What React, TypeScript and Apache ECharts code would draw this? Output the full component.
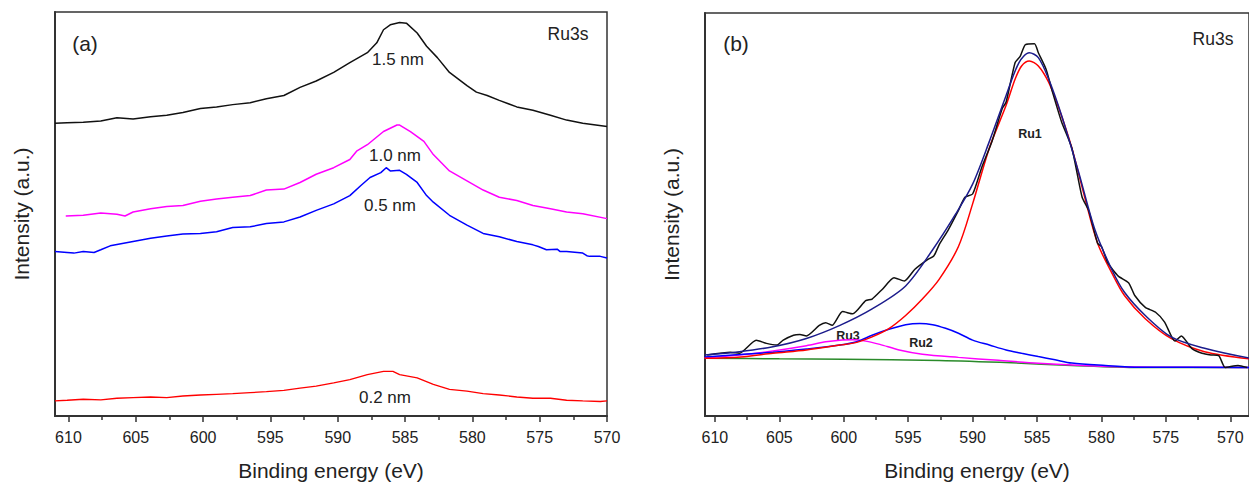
import React, { useEffect, useRef } from "react";
import * as echarts from "echarts";

// ---------- data: [binding energy (eV), intensity (a.u.)] ----------
const nm15: number[][] = [
  [611.0, 297], [610.1, 297.7], [608.9, 298], [607.6, 299.3], [606.4, 302.7], [605.2, 301.3], [603.9, 303.7],
  [602.7, 305.3], [601.5, 308], [600.2, 312], [599.0, 313.7], [597.8, 316], [596.5, 318], [595.3, 322],
  [594.0, 325.3], [592.8, 333.5], [591.6, 340], [590.3, 348.7], [589.1, 358.7], [587.8, 368.7], [587.1, 378.7],
  [586.6, 392], [586.1, 397], [585.4, 399.3], [584.9, 398.7], [584.1, 388.7], [583.4, 375.3], [582.6, 363.7],
  [581.7, 348.7], [580.4, 335.3], [579.7, 328.7], [578.9, 325.3], [578.0, 320.3], [576.7, 313.7], [575.5, 310.3],
  [574.2, 305.3], [573.0, 300.3], [571.8, 297], [570.0, 293.7],
];
const nm10: number[][] = [
  [610.2, 203], [608.9, 203.7], [607.6, 206], [606.4, 204.7], [605.8, 203], [605.2, 207], [603.9, 210.3],
  [602.7, 212.7], [601.5, 213.7], [600.2, 218], [599.0, 220.3], [597.8, 222], [596.5, 223.7], [595.3, 229.3],
  [594.0, 230.3], [592.8, 237], [591.6, 245.3], [590.3, 252], [589.1, 260.3], [588.6, 268.7], [587.8, 275.3],
  [586.6, 288.7], [585.6, 295.3], [585.4, 295.3], [584.6, 288.7], [583.6, 278.7], [582.9, 265.3], [581.7, 248.7],
  [580.4, 238.7], [579.2, 229.3], [578.0, 222], [576.7, 218.7], [575.5, 213.7], [574.2, 210.3], [573.0, 207],
  [571.8, 205.3], [570.0, 200.3],
];
const nm05: number[][] = [
  [611.0, 167], [610.1, 166], [609.6, 165.3], [608.9, 167], [608.1, 166], [607.6, 168.7], [606.9, 172.7],
  [605.2, 177], [603.9, 180.3], [602.7, 182.7], [601.5, 184.7], [600.2, 185.3], [599.0, 187], [597.8, 191.3],
  [596.5, 192], [595.3, 195.3], [594.0, 197], [592.8, 202], [591.6, 208.7], [590.3, 215.3], [589.1, 223.7],
  [588.3, 233.7], [587.6, 242], [586.8, 247], [586.4, 252], [586.1, 248.7], [585.4, 249.3], [584.9, 245.3],
  [584.1, 237], [583.4, 223.7], [582.9, 217], [581.7, 203.7], [580.4, 193.7], [579.2, 185.3], [578.0, 182],
  [576.7, 177], [575.5, 173.7], [575.1, 172], [574.5, 168.7], [573.7, 169.3], [573.5, 167], [573.0, 167],
  [571.8, 165.3], [571.5, 162.7], [571.3, 162], [570.5, 162], [570.0, 160.3],
];
const nm02: number[][] = [
  [611.0, 15.3], [610.1, 16], [608.9, 17], [607.6, 16.3], [606.4, 18], [605.2, 18.7], [603.9, 19.3],
  [602.7, 18.7], [601.5, 20.3], [600.2, 21.3], [599.0, 22], [597.8, 22.7], [596.5, 23.7], [595.3, 24.7],
  [594.0, 26], [592.8, 28.3], [591.6, 30.3], [590.3, 33.7], [589.1, 37], [587.8, 42], [586.6, 45.3],
  [585.9, 45.3], [585.4, 42], [584.1, 38.7], [582.9, 32], [581.7, 27], [580.4, 25.3], [579.2, 22.7],
  [578.0, 21.3], [576.7, 19.3], [575.5, 18], [574.2, 18], [573.0, 16], [571.8, 15.3], [570.5, 14.7], [570.0, 15.3],
];

const measured: number[][] = [
  [610.6, 62], [608.8, 64.7], [608.1, 63.7], [606.8, 77], [606.0, 73.7], [605.2, 72], [604.7, 77], [603.9, 82],
  [603.4, 82.7], [602.9, 81.3], [601.9, 92], [601.4, 94.7], [600.9, 92], [600.1, 106], [599.3, 103.7],
  [598.3, 117], [597.8, 118.7], [597.0, 128.7], [596.1, 140.3], [595.3, 137], [594.5, 148.7], [593.5, 158.7],
  [593.0, 162.7], [592.6, 173.7], [591.9, 188.7], [591.1, 208.7], [590.6, 222], [590.0, 225.3], [589.3, 252],
  [588.5, 278.7], [587.7, 312], [587.4, 318.7], [586.7, 358.7], [586.3, 365.3], [585.9, 377], [585.2, 377.7],
  [584.9, 368.7], [584.3, 352], [583.8, 328.7], [583.1, 298.7], [582.3, 272], [581.5, 222], [581.0, 208.7],
  [580.3, 175.3], [580.0, 172], [579.5, 155.3], [578.7, 142], [577.9, 135.3], [577.4, 122], [576.6, 110.3],
  [575.8, 105.3], [575.1, 95.3], [574.3, 76], [573.8, 81.3], [573.0, 68.7], [572.2, 63.7], [571.5, 62],
  [570.9, 61.3], [570.4, 49.3], [569.4, 51.3], [568.7, 49.3],
];
const envelope: number[][] = [
  [610.8, 62], [608.1, 65.3], [605.5, 70.3], [602.9, 78.7], [600.3, 92], [597.8, 108.7], [595.2, 132],
  [593.1, 168.7], [591.3, 205.3], [590.0, 235.3], [588.7, 278.7], [587.4, 325.3], [586.4, 358.7], [585.6, 368.7],
  [584.9, 363.7], [584.1, 342], [583.1, 305.3], [581.8, 248.7], [580.5, 188.7], [579.2, 148.7], [578.2, 125.3],
  [576.6, 102], [574.6, 80.3], [572.0, 68.7], [568.5, 58.7],
];
const ru1: number[][] = [
  [610.8, 58.5], [608.0, 60], [605.5, 63.7], [602.9, 67], [600.3, 72], [599.0, 74.7], [597.8, 80.3],
  [596.5, 88.7], [595.2, 102], [593.9, 118.7], [592.6, 138.7], [591.1, 172], [590.0, 215.3], [588.7, 272],
  [587.4, 315.3], [586.7, 342], [586.2, 355.3], [585.6, 360.3], [584.9, 355.3], [584.1, 338.7], [583.3, 312],
  [582.3, 272], [581.3, 222], [580.3, 175.3], [579.2, 145.3], [578.2, 122], [576.6, 98.7], [574.6, 78.7],
  [572.0, 65.3], [568.5, 58],
];
const ru2: number[][] = [
  [610.8, 60], [605.5, 64.7], [602.9, 68], [600.3, 72], [599.0, 75.3], [597.8, 82], [596.5, 88], [595.2, 92.7],
  [594.1, 94], [593.1, 92.7], [592.1, 89], [591.1, 84], [590.0, 77], [588.7, 72], [587.4, 67], [586.2, 63.7],
  [584.9, 60.3], [583.6, 57], [582.3, 53.7], [579.7, 51.3], [577.1, 49.5], [568.5, 49.3],
];
const ru3: number[][] = [
  [610.8, 59], [608.1, 62], [605.5, 66], [602.9, 71.3], [601.4, 75.3], [600.3, 77], [599.3, 77.3], [598.3, 76],
  [597.2, 72.7], [595.7, 67], [593.9, 62.7], [591.1, 59.5], [588.0, 56.5], [584.9, 53.5], [580.0, 50.5],
  [575.0, 49.5], [568.5, 49.3],
];
const background: number[][] = [
  [610.8, 58.7], [605.0, 58], [600.0, 57.5], [592.6, 56.3], [587.0, 54], [582.3, 51.3], [577.1, 49.3], [568.5, 49.3],
];

const majorTicks = [570, 575, 580, 585, 590, 595, 600, 605, 610];
const minorTicks = [572.5, 577.5, 582.5, 587.5, 592.5, 597.5, 602.5, 607.5];

const FONT = "'Liberation Sans', Arial, sans-serif";
const AXIS = "#333";

function makeX(gridIndex: number, min: number, max: number) {
  return [
    {
      type: "value", gridIndex, min, max, inverse: true,
      name: "Binding energy (eV)", nameLocation: "middle", nameGap: 44,
      nameTextStyle: { fontSize: 21, color: "#222", fontFamily: FONT },
      axisLine: { show: true, lineStyle: { color: AXIS, width: 2 } },
      axisTick: { show: true, customValues: majorTicks, length: 6, lineStyle: { color: AXIS, width: 1.5 } },
      axisLabel: { show: true, customValues: majorTicks, margin: 13, fontSize: 16, color: "#222", fontFamily: FONT },
      splitLine: { show: false },
    },
    {
      type: "value", gridIndex, min, max, inverse: true, position: "bottom",
      axisLine: { show: false },
      axisTick: { show: true, customValues: minorTicks, length: 4, lineStyle: { color: AXIS, width: 1.5 } },
      axisLabel: { show: false },
      splitLine: { show: false },
    },
  ];
}

function makeY(gridIndex: number, max: number) {
  return {
    type: "value", gridIndex, min: 0, max,
    name: "Intensity (a.u.)", nameLocation: "middle", nameGap: 23,
    nameTextStyle: { fontSize: 21, color: "#222", fontFamily: FONT },
    axisLine: { show: true, lineStyle: { color: AXIS, width: 2 } },
    axisTick: { show: false }, axisLabel: { show: false }, splitLine: { show: false },
  };
}

function line(data: number[][], color: string, xi: number, yi: number, width = 1.5, smooth: number | boolean = false) {
  return {
    type: "line", data, xAxisIndex: xi, yAxisIndex: yi, showSymbol: false, symbol: "none", smooth,
    lineStyle: { color, width }, silent: true, z: 3,
  };
}

function text(x: number, y: number, t: string, size: number, bold = false) {
  return {
    type: "text", x, y, silent: true,
    style: { text: t, fontSize: size, fontFamily: FONT, fill: "#222", fontWeight: bold ? "bold" : "normal", align: "center", verticalAlign: "middle" },
  };
}

export default function App() {
  const ref = useRef<HTMLDivElement>(null);
  useEffect(() => {
    if (!ref.current) return;
    const chart = echarts.init(ref.current, undefined, { renderer: "svg" });
    const option: any = {
      animation: false,
      backgroundColor: "#fff",
      grid: [
        { left: 55, right: 642, top: 12, bottom: 64, show: true, borderColor: AXIS, borderWidth: 1.5, backgroundColor: "transparent" },
        { left: 705, right: -2, top: 13, bottom: 64, show: true, borderColor: AXIS, borderWidth: 1.5, backgroundColor: "transparent" },
      ],
      xAxis: [...makeX(0, 570, 611.0), ...makeX(1, 568.55, 610.77)],
      yAxis: [makeY(0, 410), makeY(1, 409)],
      series: [
        line(nm15, "#111", 0, 0),
        line(nm10, "#ff00ff", 0, 0),
        line(nm05, "#0000ff", 0, 0),
        line(nm02, "#ff0000", 0, 0, 1.3),
        line(background, "#2a8a2a", 2, 1, 1.5, 0.3),
        line(ru3, "#ff00ff", 2, 1, 1.5, 0.3),
        line(ru2, "#0000ff", 2, 1, 1.5, 0.3),
        line(ru1, "#ff0000", 2, 1, 1.5, 0.3),
        line(measured, "#111", 2, 1, 1.5, 0.2),
        line(envelope, "#1c1c8c", 2, 1, 1.5, 0.3),
      ],
      graphic: [
        text(85, 43, "(a)", 21),
        text(568, 34, "Ru3s", 17.5),
        text(398, 59, "1.5 nm", 17),
        text(395, 155, "1.0 nm", 17),
        text(390, 205, "0.5 nm", 17),
        text(385, 397, "0.2 nm", 17),
        text(736, 43, "(b)", 21),
        text(1213, 39, "Ru3s", 17.5),
        text(1030, 134, "Ru1", 12.5, true),
        text(848, 336, "Ru3", 12.5, true),
        text(921, 343, "Ru2", 12.5, true),
      ],
    };
    chart.setOption(option);
    return () => chart.dispose();
  }, []);
  return <div ref={ref} style={{ position: "absolute", left: 0, top: 0, width: 1249, height: 486 }} />;
}
